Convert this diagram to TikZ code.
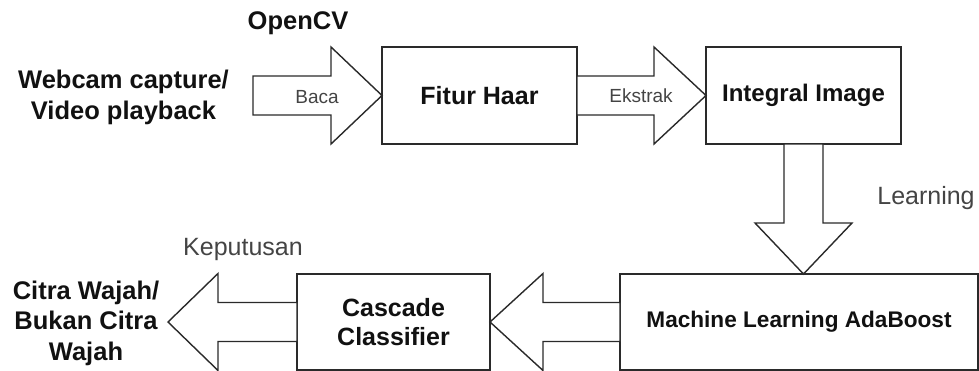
\documentclass[tikz,border=0pt]{standalone}
\usepackage{fontspec}
\setmainfont{Liberation Sans}
\usetikzlibrary{calc}

\definecolor{edge}{HTML}{2A2A2A}
\definecolor{ink}{HTML}{111111}
\definecolor{soft}{HTML}{444444}

\tikzset{
  stage/.style={draw=edge, line width=1.4pt, fill=white, outer sep=0pt, inner sep=2pt,
    align=center, text=ink, font=\bfseries\fontsize{25}{30}\selectfont},
  blk/.style={draw=edge, line width=1.4pt, fill=white, line join=miter},
  plain/.style={text=soft, inner sep=0pt},
  heading/.style={text=ink, inner sep=0pt, align=center, font=\bfseries\fontsize{25.5}{31}\selectfont},
}

% horizontal block arrow: tail point, tip point, head length
\newcommand\hblock[3]{%
  \draw[blk] let \p1=(#1), \p2=(#2), \n1={sign(\x2-\x1)*#3} in
    (\x1,\y2+19.5) -- ({\x2-\n1},\y2+19.5) -- ({\x2-\n1},\y2+48.5) -- (\x2,\y2)
    -- ({\x2-\n1},\y2-48.5) -- ({\x2-\n1},\y2-19.5) -- (\x1,\y2-19.5) -- cycle;}
% vertical block arrow (downwards): tail point, tip point, head length
\newcommand\vblock[3]{%
  \draw[blk] let \p1=(#1), \p2=(#2), \n1={sign(\y2-\y1)*#3} in
    (\x2-19.5,\y1) -- (\x2-19.5,{\y2-\n1}) -- (\x2-48.5,{\y2-\n1}) -- (\x2,\y2)
    -- (\x2+48.5,{\y2-\n1}) -- (\x2+19.5,{\y2-\n1}) -- (\x2+19.5,\y1) -- cycle;}

\begin{document}
\begin{tikzpicture}[x=1pt,y=-1pt]
  \useasboundingbox (0,0) rectangle (979,370);

  % processing stages
  \node[stage, minimum width=195pt, minimum height=97pt] (haar) at (479.5,95.5) {Fitur Haar};
  \node[stage, minimum width=195pt, minimum height=97pt, font=\bfseries\fontsize{24}{29}\selectfont]
    (integral) at (803.5,95.5) {Integral Image};
  \node[stage, minimum width=358pt, minimum height=96pt, font=\bfseries\fontsize{22.6}{27}\selectfont]
    (ml) at (799,322) {Machine Learning AdaBoost};
  \node[stage, minimum width=193pt, minimum height=96pt, font=\bfseries\fontsize{25}{30}\selectfont]
    (cascade) at (393.5,322) {Cascade\\[-1pt]Classifier};

  % input and output texts
  \node[heading] (opencv) at (298,23) {OpenCV};
  \node[heading] (source) at (123.5,97) {Webcam capture/\\Video playback};
  \node[heading, font=\bfseries\fontsize{25.5}{30.5}\selectfont] (result) at (86,323)
    {Citra Wajah/\\Bukan Citra\\Wajah};

  \coordinate (feed) at (253,95.5);
  \coordinate (decide) at (168,322);

  % block arrows between the stages
  \hblock{feed}{haar.west}{51}
  \hblock{haar.east}{integral.west}{52}
  \vblock{integral.south}{integral.south |- ml.north}{51}
  \hblock{ml.west}{cascade.east}{53}
  \hblock{cascade.west}{decide}{50}

  % arrow labels
  \node[plain, font=\fontsize{19}{23}\selectfont] (baca) at (317,97) {Baca};
  \node[plain, font=\fontsize{19}{23}\selectfont] (ekstrak) at (641,96) {Ekstrak};
  \node[plain, font=\fontsize{25}{30}\selectfont] (learning) at (926,198) {Learning};
  \node[plain, font=\fontsize{25}{30}\selectfont] (keputusan) at (243,249) {Keputusan};
\end{tikzpicture}
\end{document}
